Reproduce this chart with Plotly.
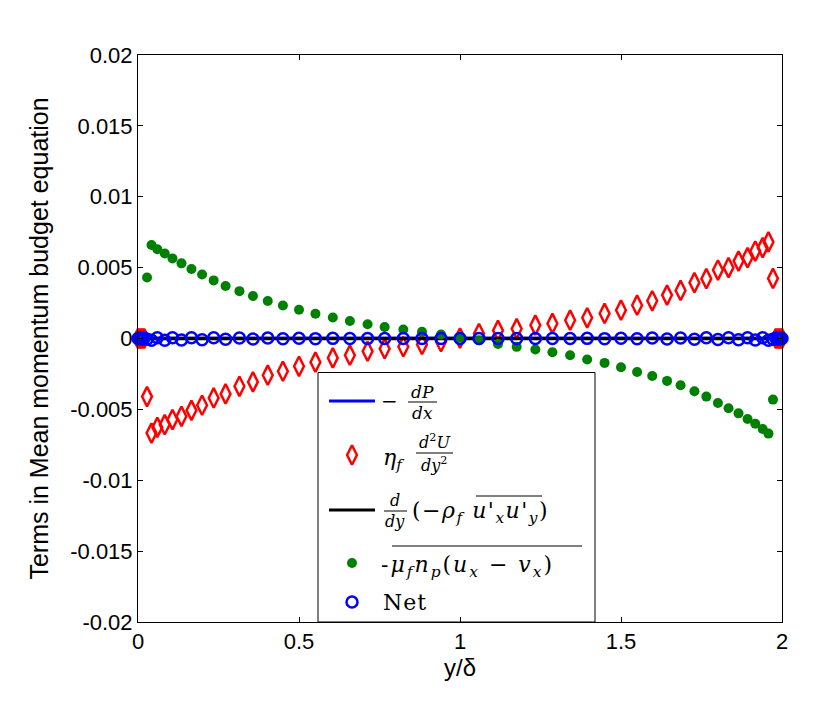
import plotly.graph_objects as go

# wall-normal position y/delta
y_delta = [0.000, 0.006, 0.012, 0.019, 0.028, 0.042, 0.060, 0.083, 0.107, 0.135, 0.166,
           0.199, 0.235, 0.272, 0.315, 0.357, 0.403, 0.450, 0.500, 0.551, 0.605, 0.658,
           0.713, 0.766, 0.824, 0.882, 0.941, 1.000, 1.059, 1.118, 1.176, 1.234, 1.287,
           1.342, 1.395, 1.449, 1.500, 1.550, 1.597, 1.643, 1.685, 1.728, 1.765, 1.801,
           1.834, 1.865, 1.893, 1.917, 1.940, 1.958, 1.972, 1.981, 1.988, 1.994, 2.000]

# -dP/dx
pressure_grad = [0.00001, 0.00001, 0.00001, 0.00001, 0.00001, 0.00001, 0.00001, 0.00001, 0.00001, 0.00001, 0.00001,
                 0.00001, 0.00001, 0.00001, 0.00001, 0.00001, 0.00001, 0.00001, 0.00001, 0.00001, 0.00001, 0.00001,
                 0.00001, 0.00001, 0.00001, 0.00001, 0.00001, 0.00001, 0.00001, 0.00001, 0.00001, 0.00001, 0.00001,
                 0.00001, 0.00001, 0.00001, 0.00001, 0.00001, 0.00001, 0.00001, 0.00001, 0.00001, 0.00001, 0.00001,
                 0.00001, 0.00001, 0.00001, 0.00001, 0.00001, 0.00001, 0.00001, 0.00001, 0.00001, 0.00001, 0.00001]

# viscous term eta_f d2U/dy2
viscous = [0.0, 0.0, 0.0, 0.0, -0.0041, -0.00667, -0.00627, -0.00608, -0.00572, -0.00549, -0.00507,
           -0.00471, -0.00419, -0.00391, -0.00337, -0.00306, -0.00259, -0.00231, -0.00196, -0.00167, -0.00137, -0.00118,
           -0.0009, -0.00072, -0.00058, -0.00042, -0.00023, 0.00003, 0.00035, 0.00057, 0.00069, 0.00094, 0.00106,
           0.00129, 0.00146, 0.00177, 0.0020, 0.00235, 0.00266, 0.00306, 0.00339, 0.00394, 0.00422, 0.00483,
           0.0050, 0.00546, 0.0057, 0.00617, 0.00641, 0.00681, 0.00424, 0.0, 0.0, 0.0, 0.0]

# Reynolds stress gradient
reynolds = [0.0, 0.0, 0.0, 0.0, 0.0, 0.0, 0.0, 0.0, 0.0, 0.0, 0.0,
            0.0, 0.0, 0.0, 0.0, 0.0, 0.0, 0.0, 0.0, 0.0, 0.0, 0.0,
            0.0, 0.0, 0.0, 0.0, 0.0, 0.0, 0.0, 0.0, 0.0, 0.0, 0.0,
            0.0, 0.0, 0.0, 0.0, 0.0, 0.0, 0.0, 0.0, 0.0, 0.0, 0.0,
            0.0, 0.0, 0.0, 0.0, 0.0, 0.0, 0.0, 0.0, 0.0, 0.0, 0.0]

# particle drag term
drag = [0.0, 0.0, 0.0, 0.0, 0.0043, 0.0066, 0.0063, 0.0060, 0.00565, 0.0053, 0.0049,
        0.00452, 0.0041, 0.0037, 0.00334, 0.0030, 0.00264, 0.00233, 0.00203, 0.00175, 0.00148, 0.00123,
        0.0010, 0.00081, 0.00064, 0.00047, 0.00028, 0.00005, -0.00012, -0.00038, -0.00059, -0.00078, -0.00097,
        -0.00118, -0.00148, -0.00172, -0.00203, -0.00236, -0.00264, -0.00299, -0.0033, -0.00372, -0.0041, -0.00455,
        -0.00492, -0.00528, -0.00568, -0.00601, -0.00638, -0.00671, -0.00431, 0.0, 0.0, 0.0, 0.0]

# sum of all terms
net = [0.0, 0.00003, -0.00005, 0.00004, -0.00006, -0.00012, 0.00006, -0.00012, 0.00006, -0.00011, 0.00005,
       -0.00009, 0.00005, -0.00006, 0.00003, -0.00004, 0.00003, -0.00002, 0.00002, -0.00001, 0.00001, 0.0,
       0.0, 0.0, 0.0, 0.0, 0.0, 0.0, 0.0, 0.0, 0.0, 0.0, 0.0,
       0.0, 0.00001, -0.00001, 0.00002, -0.00002, 0.00003, -0.00003, 0.00004, -0.00005, 0.00005, -0.00007,
       0.00006, -0.00009, 0.00006, -0.00011, 0.00006, -0.00012, -0.00005, 0.00004, -0.00005, 0.00003, 0.0]

x_ticks = [0, 0.5, 1, 1.5, 2]
x_ticktext = ["0", "0.5", "1", "1.5", "2"]
y_ticks = [-0.02, -0.015, -0.01, -0.005, 0, 0.005, 0.01, 0.015, 0.02]
y_ticktext = ["-0.02", "-0.015", "-0.01", "-0.005", "0", "0.005", "0.01", "0.015", "0.02"]

# page has an 8px body margin, so the figure is drawn 8px in from the window corner
PAGE_OFF = 8
W, H = 830 - 2 * PAGE_OFF, 701 - 2 * PAGE_OFF
# plot box in window pixels: x 138..782, y 55..622
BOX_L, BOX_R, BOX_T, BOX_B = 138, 782, 55, 622
L = BOX_L - PAGE_OFF
T = BOX_T - PAGE_OFF
R = W - L - (BOX_R - BOX_L)
B = H - T - (BOX_B - BOX_T)


def px(x):
    return (x - BOX_L) / (BOX_R - BOX_L)


def py(y):
    return (BOX_B - y) / (BOX_B - BOX_T)


RED_MK = dict(symbol="diamond-tall-open", size=14, color="#ff0000", line=dict(width=2.5, color="#ff0000"))
GREEN_MK = dict(symbol="circle", size=10, color="#008000")
BLUE_MK = dict(symbol="circle-open", size=11, color="#0000ff", line=dict(width=2.5, color="#0000ff"))

fig = go.Figure()

fig.add_trace(go.Scatter(x=y_delta, y=pressure_grad, mode="lines",
                         line=dict(color="#0000ff", width=3), cliponaxis=False))
fig.add_trace(go.Scatter(x=y_delta, y=viscous, mode="markers", cliponaxis=False, marker=RED_MK))
fig.add_trace(go.Scatter(x=y_delta, y=reynolds, mode="lines",
                         line=dict(color="black", width=3.5), cliponaxis=False))
fig.add_trace(go.Scatter(x=y_delta, y=drag, mode="markers", cliponaxis=False, marker=GREEN_MK))
fig.add_trace(go.Scatter(x=y_delta, y=net, mode="markers", cliponaxis=False, marker=BLUE_MK))

# legend sample markers on a hidden overlay axis (0..1 range = plot box)
for mk, ly in [(RED_MK, 455), (GREEN_MK, 563), (BLUE_MK, 602)]:
    fig.add_trace(go.Scatter(x=[px(352)], y=[py(ly)], xaxis="x2", yaxis="y2", mode="markers",
                             cliponaxis=False, marker=mk))

shapes = [
    dict(type="rect", xref="paper", yref="paper", x0=px(318), x1=px(595), y0=py(622), y1=py(372.5),
         line=dict(color="black", width=1), fillcolor="white", layer="below"),
    dict(type="line", xref="paper", yref="paper", x0=px(329), x1=px(375), y0=py(401), y1=py(401),
         line=dict(color="#0000ff", width=3)),
    dict(type="line", xref="paper", yref="paper", x0=px(329), x1=px(375), y0=py(510), y1=py(510),
         line=dict(color="black", width=3)),
    # fraction bars
    dict(type="line", xref="paper", yref="paper", x0=px(408), x1=px(437), y0=py(402), y1=py(402),
         line=dict(color="black", width=1)),
    dict(type="line", xref="paper", yref="paper", x0=px(416), x1=px(453), y0=py(453), y1=py(453),
         line=dict(color="black", width=1)),
    dict(type="line", xref="paper", yref="paper", x0=px(384), x1=px(407), y0=py(511), y1=py(511),
         line=dict(color="black", width=1)),
    # overlines
    dict(type="line", xref="paper", yref="paper", x0=px(476), x1=px(542), y0=py(496), y1=py(496),
         line=dict(color="black", width=1)),
    dict(type="line", xref="paper", yref="paper", x0=px(392), x1=px(582), y0=py(546), y1=py(546),
         line=dict(color="black", width=1)),
]

SERIF = "DejaVu Serif"


def note(text, x, y, size, xanchor="center", spacing=0):
    if spacing:
        text = '<span style="letter-spacing:%spx">%s</span>' % (spacing, text)
    return dict(text=text, x=px(x), y=py(y), xref="paper", yref="paper", showarrow=False,
                xanchor=xanchor, yanchor="middle", font=dict(family=SERIF, size=size, color="black"))


annotations = [
    note("−", 389, 401, 20),
    note("<i>dP</i>", 422, 392, 17),
    note("<i>dx</i>", 422, 413, 17),
    note("<i>η</i><sub><i>f</i></sub>", 381, 459, 22, "left"),
    note("<i>d</i><sup>2</sup><i>U</i>", 434, 441, 16),
    note("<i>dy</i><sup>2</sup>", 434, 464, 16),
    note("<i>d</i>", 395, 500, 16),
    note("<i>dy</i>", 395, 521, 16),
    note("(−<i>ρ</i><sub><i>f</i></sub> <i>u</i>'<sub><i>x</i></sub><i>u</i>'<sub><i>y</i></sub>)",
         410, 512, 22, "left", 1.5),
    note("-<i>μ</i><sub><i>f</i></sub><i>n</i><sub><i>p</i></sub>(<i>u</i><sub><i>x</i></sub> − <i>v</i><sub><i>x</i></sub>)",
         379, 566, 22, "left", 2),
    note("Net", 381, 602, 22, "left", 1),
]

axis_common = dict(showline=True, linecolor="black", linewidth=1, mirror="ticks",
                   ticks="inside", ticklen=5, tickcolor="black", showgrid=False, zeroline=False,
                   tickfont=dict(family="Liberation Sans", size=22, color="black"))

fig.update_layout(
    width=W, height=H,
    margin=dict(l=L, r=R, t=T, b=B, autoexpand=False),
    paper_bgcolor="white", plot_bgcolor="white",
    showlegend=False,
    shapes=shapes,
    annotations=annotations,
    xaxis=dict(range=[0, 2], tickvals=x_ticks, ticktext=x_ticktext,
               title=dict(text="y/δ", font=dict(family="Liberation Sans", size=24, color="black"), standoff=2),
               **axis_common),
    yaxis=dict(range=[-0.02, 0.02], tickvals=y_ticks, ticktext=y_ticktext,
               title=dict(text="Terms in Mean momentum budget equation",
                          font=dict(family="Liberation Sans", size=25, color="black"), standoff=14),
               **axis_common),
    xaxis2=dict(range=[0, 1], overlaying="x", anchor="y2", visible=False),
    yaxis2=dict(range=[0, 1], overlaying="y", anchor="x2", visible=False),
)

fig.write_html("out.html")
